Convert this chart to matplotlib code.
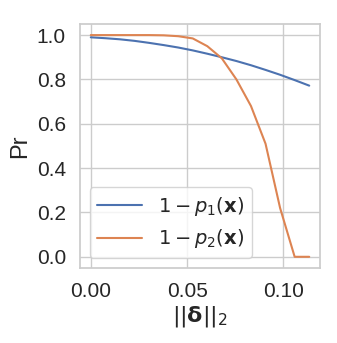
import numpy as np
import matplotlib
matplotlib.use('Agg')
import matplotlib.pyplot as plt
import seaborn as sns

# valeurs
delta = [0.0, 0.00756, 0.01512, 0.02268, 0.03024, 0.0378, 0.04536, 0.05292,
         0.06048, 0.06804, 0.0756, 0.08316, 0.09072, 0.09828, 0.10584, 0.1134]
p1_comp = [0.99, 0.986, 0.981, 0.974, 0.965, 0.955, 0.944, 0.931,
           0.916, 0.900, 0.883, 0.864, 0.843, 0.821, 0.797, 0.772]
p2_comp = [1.0, 1.0, 1.0, 1.0, 1.0, 0.999, 0.995, 0.985,
           0.95, 0.895, 0.80, 0.68, 0.51, 0.22, 0.0, 0.0]
labels = [r'$1-p_1(\mathbf{x})$', r'$1-p_2(\mathbf{x})$']

sns.set_theme(style='whitegrid')
plt.rcParams['font.family'] = ['Liberation Sans', 'DejaVu Sans']
plt.rcParams['mathtext.fontset'] = 'dejavusans'

fig, ax = plt.subplots(figsize=(3.37, 3.43), dpi=100)
fig.subplots_adjust(left=0.237, right=0.95, top=0.93, bottom=0.219)

ax.plot(delta, p1_comp, color='#4c72b0', lw=1.5, label=labels[0])
ax.plot(delta, p2_comp, color='#dd8452', lw=1.5, label=labels[1])

ax.set_xticks([0.0, 0.05, 0.10])
ax.set_xticklabels(['0.00', '0.05', '0.10'])
ax.set_yticks([0.0, 0.2, 0.4, 0.6, 0.8, 1.0])
ax.tick_params(labelsize=15, pad=4)
ax.set_xlabel(r'$||\mathbf{\delta}||_2$', fontsize=16, labelpad=2)
ax.set_ylabel('Pr', fontsize=17, labelpad=4)
ax.legend(fontsize=14, loc='lower left', handlelength=2.3)

plt.savefig('out.png', dpi=100)
